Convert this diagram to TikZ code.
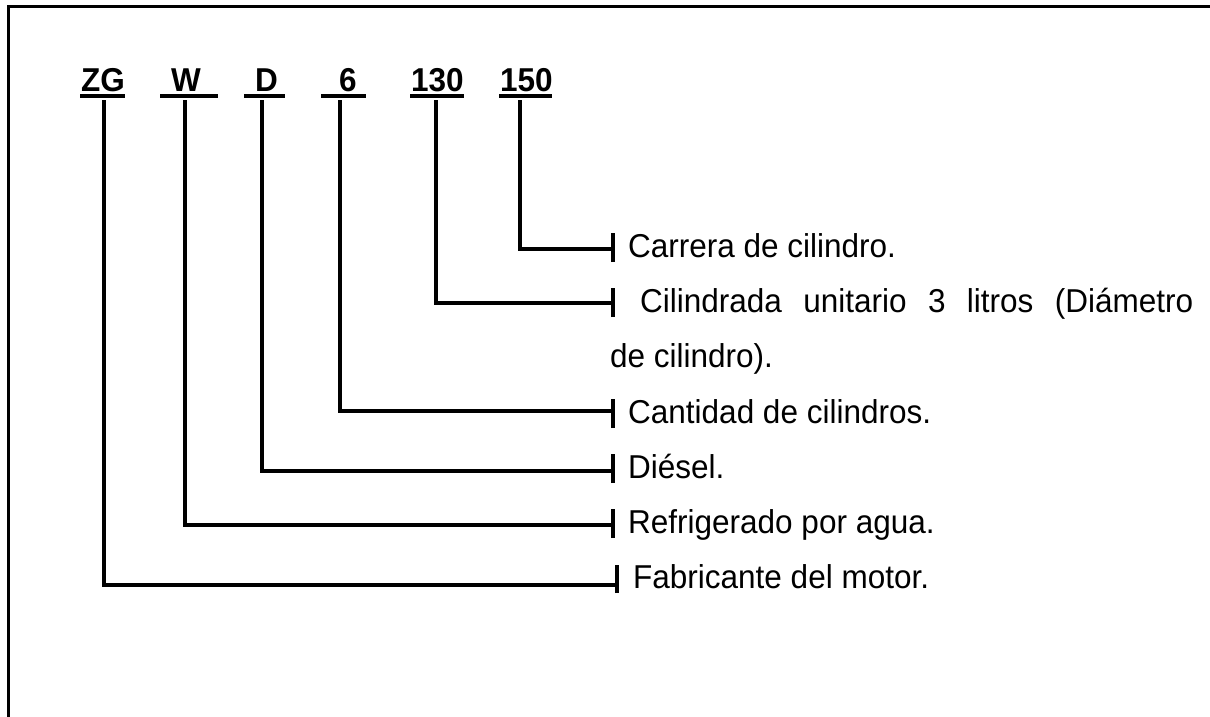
\documentclass[tikz,border=0pt]{standalone}
\usepackage{fontspec}
\setmainfont{Liberation Sans}
\newcommand{\tallbox}[1]{\scalebox{1}[1.05]{#1}}
\begin{document}
\begin{tikzpicture}[x=1pt,y=-1pt,
  frame/.style={line width=3pt},
  uline/.style={line width=4pt},
  conn/.style={line width=3.8pt},
  tick/.style={line width=3.8pt},
  code/.style={anchor=base west,inner sep=0pt,font=\fontsize{31.5pt}{36pt}\selectfont\bfseries},
  desc/.style={anchor=base west,inner sep=0pt,font=\fontsize{31.5pt}{36pt}\selectfont}]
\useasboundingbox (0,0) rectangle (1210,716);
% frame (top and left only)
\draw[frame] (1211,6) -- (8,6) -- (8,717);
% codes
\node[code] (zg)  at (81,91)  {\tallbox{ZG}};
\node[code] (w)   at (171,91) {\tallbox{W}};
\node[code] (d)   at (255,91) {\tallbox{D}};
\node[code] (six) at (339,91) {\tallbox{6}};
\node[code] (c130) at (411,91) {\tallbox{130}};
\node[code] (c150) at (500,91) {\tallbox{150}};
% underlines
\draw[uline] (80,96) -- (125,96);
\draw[uline] (160,96) -- (218,96);
\draw[uline] (244,96) -- (285,96);
\draw[uline] (321,96) -- (366,96);
\draw[uline] (410,96) -- (464,96);
\draw[uline] (499,96) -- (552,96);
% descriptions
\node[desc] (tcar) at (628,257) {\tallbox{Carrera de cilindro.}};
\node[desc] (tcil) at (640,312) {\tallbox{\makebox[553pt][s]{Cilindrada unitario 3 litros (Diámetro}}};
\node[desc] (tcil2) at (610,367) {\tallbox{de cilindro).}};
\node[desc] (tcan) at (628,423) {\tallbox{Cantidad de cilindros.}};
\node[desc] (tdie) at (628,478) {\tallbox{Diésel.}};
\node[desc] (tref) at (628,533) {\tallbox{Refrigerado por agua.}};
\node[desc] (tfab) at (633,588) {\tallbox{Fabricante del motor.}};
% connector coordinates
\coordinate (s150) at (520,100); \coordinate (e150) at (613,249);
\coordinate (s130) at (436,100); \coordinate (e130) at (613,303);
\coordinate (s6)   at (340,100); \coordinate (e6)   at (613,411);
\coordinate (sd)   at (262,100); \coordinate (ed)   at (613,471);
\coordinate (sw)   at (185,100); \coordinate (ew)   at (613,525);
\coordinate (szg)  at (104,100); \coordinate (ezg)  at (617,585);
\draw[conn] (s150) |- (e150);
\draw[conn] (s130) |- (e130);
\draw[conn] (s6) |- (e6);
\draw[conn] (sd) |- (ed);
\draw[conn] (sw) |- (ew);
\draw[conn] (szg) |- (ezg);
% ticks
\draw[tick] (613,262) -- (613,233);
\draw[tick] (613,317) -- (613,288);
\draw[tick] (613,428) -- (613,399);
\draw[tick] (613,483) -- (613,454);
\draw[tick] (613,538) -- (613,509);
\draw[tick] (617,593) -- (617,565);
\end{tikzpicture}
\end{document}
